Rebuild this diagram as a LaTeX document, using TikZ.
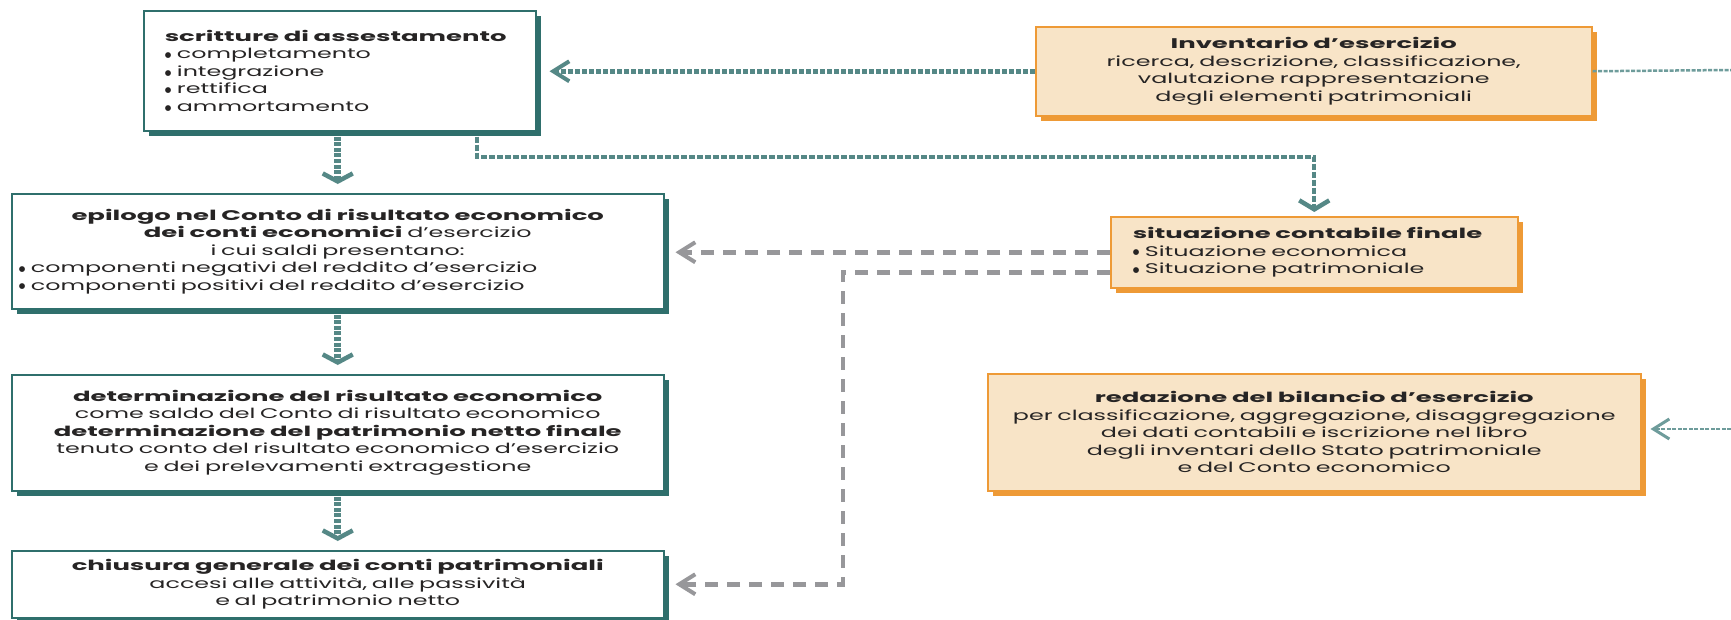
\documentclass[tikz,border=0pt]{standalone}
\usepackage{fontspec}
\setmainfont{Poppins}[UprightFeatures={FakeStretch=1.7}, BoldFeatures={FakeStretch=1.85}]
\newfontfamily\dotfont{DejaVu Sans}
\usetikzlibrary{arrows.meta,shadows,calc}
\definecolor{tealdk}{HTML}{2F6F6C}
\definecolor{tealar}{HTML}{558886}
\definecolor{teallt}{HTML}{6E9C9B}
\definecolor{orgbd}{HTML}{EE9A36}
\definecolor{orgfl}{HTML}{F8E4C7}
\definecolor{grayar}{HTML}{97979A}
\definecolor{txt}{HTML}{262424}
\newcommand\bul{\raisebox{1.2pt}{\dotfont\fontsize{7.5}{7.5}\selectfont ●}\hspace{0.4em}}
\tikzset{
  tealbox/.style={draw=tealdk, line width=1.5pt, fill=white, inner sep=0pt, anchor=north west,
    drop shadow={shadow xshift=5pt, shadow yshift=-5pt, opacity=1, fill=tealdk, draw=none}},
  orgbox/.style={draw=orgbd, line width=1.5pt, fill=orgfl, inner sep=0pt, anchor=north west,
    drop shadow={shadow xshift=5pt, shadow yshift=-5pt, opacity=1, fill=orgbd, draw=none}},
  vteal/.style={draw=tealar, line width=7pt, dash pattern=on 4pt off 1.6pt, shorten <=5pt, shorten >=9pt,
    -{Straight Barb[length=8pt,width=30pt,line width=4.5pt]}},
  hteal/.style={draw=tealar, line width=5pt, dash pattern=on 5pt off 2pt, shorten >=13pt,
    -{Straight Barb[length=16pt,width=20pt,line width=4pt]}},
  elbowteal/.style={draw=tealar, line width=4pt, dash pattern=on 6pt off 2pt, shorten <=5pt, shorten >=4pt,
    -{Straight Barb[length=9pt,width=30pt,line width=4.5pt]}},
  grayarrow/.style={draw=grayar, line width=4.5pt, dash pattern=on 13pt off 9pt, shorten >=11pt,
    -{Straight Barb[length=16pt,width=20pt,line width=4pt]}},
  thinteal/.style={draw=teallt, line width=2.5pt, dash pattern=on 4pt off 1.5pt},
  thintealarrow/.style={thinteal, shorten >=9pt, -{Straight Barb[length=16pt,width=20pt,line width=3pt]}}
}
\begin{document}
\begin{tikzpicture}[x=1pt, y=-1pt, font=\fontsize{14}{17.5}\selectfont, text=txt]
\fill[white] (0,0) rectangle (1731,619);
\useasboundingbox (0,0) rectangle (1731,619);

% left column
\node[tealbox, minimum width=392, minimum height=120, text width=350, align=left] (b1) at (143,10)
  {\textbf{scritture di assestamento}\\ \bul completamento\\ \bul integrazione\\ \bul rettifica\\ \bul ammortamento};

\node[tealbox, minimum width=652, minimum height=115, text width=638, align=left] (b2) at (11,193)
  {{\centering\textbf{epilogo nel Conto di risultato economico}\\
   \textbf{dei conti economici} d’esercizio\\
   i cui saldi presentano:\par}
   \bul componenti negativi del reddito d’esercizio\\
   \bul componenti positivi del reddito d’esercizio};

\node[tealbox, minimum width=652, minimum height=116, text width=640, align=center] (b3) at (11,374)
  {\textbf{determinazione del risultato economico}\\
   come saldo del Conto di risultato economico\\
   \textbf{determinazione del patrimonio netto finale}\\
   tenuto conto del risultato economico d’esercizio\\
   e dei prelevamenti extragestione};

\node[tealbox, minimum width=652, minimum height=67, text width=640, align=center] (b4) at (11,550)
  {\textbf{chiusura generale dei conti patrimoniali}\\
   accesi alle attività, alle passività\\
   e al patrimonio netto};

% right column
\node[orgbox, minimum width=556, minimum height=89, text width=544, align=center] (inv) at (1035,26)
  {\textbf{Inventario d’esercizio}\\
   ricerca, descrizione, classificazione,\\
   valutazione rappresentazione\\
   degli elementi patrimoniali};

\node[orgbox, minimum width=407, minimum height=71, text width=363, align=left] (sit) at (1110,216)
  {\textbf{situazione contabile finale}\\ \bul Situazione economica\\ \bul Situazione patrimoniale};

\node[orgbox, minimum width=653, minimum height=117, text width=641, align=center] (red) at (987,373)
  {\textbf{redazione del bilancio d’esercizio}\\
   per classificazione, aggregazione, disaggregazione\\
   dei dati contabili e iscrizione nel libro\\
   degli inventari dello Stato patrimoniale\\
   e del Conto economico};

\coordinate (invR) at (1731,70);
\coordinate (redR) at (1731,429);

% connectors
\draw[vteal] (b2.north |- b1.south) -- (b2.north);
\draw[vteal] (b2.south) -- (b3.north);
\draw[vteal] (b3.south) -- (b4.north);
\draw[hteal] (inv.west) -- (inv.west -| b1.east);
\draw[elbowteal] ($(b1.south west)!0.85!(b1.south east)$) -- ++(0,25) -| (sit.north);
\draw[grayarrow] (sit.west) -- (sit.west -| b2.east);
\draw[grayarrow] ([yshift=-20pt]sit.west) -- ++(-267,0) |- (b4.east);
\draw[thinteal] (inv.east) -- (invR);
\draw[thintealarrow] (redR) -- (redR -| red.east);
\end{tikzpicture}
\end{document}
